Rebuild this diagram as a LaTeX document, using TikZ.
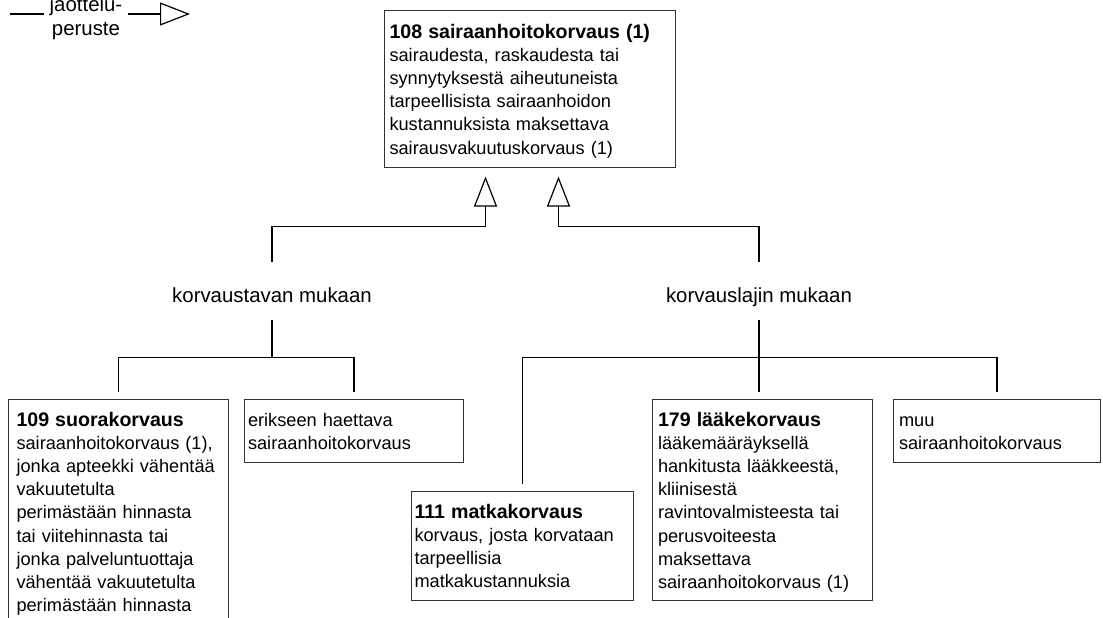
\documentclass[tikz,border=0pt]{standalone}
\usepackage{fontspec}
\setmainfont{Liberation Sans}
\usetikzlibrary{arrows.meta}
\tikzset{
	x=1pt, y=-1pt,
	card/.style={
		draw=black!80, line width=1pt,
		anchor=north west, align=left,
		inner ysep=0pt,
		text height=27pt,
		font=\fontsize{18.2}{23.1}\selectfont
	},
	criterion/.style={
		anchor=base, inner sep=0pt,
		text height=40pt, text depth=18pt,
		font=\fontsize{20.4}{24}\selectfont
	},
	link/.style={line width=1.2pt},
	generalise/.style={link, -{Triangle[open, length=30pt, width=23pt]}}
}
\newcommand{\cardtitle}[1]{{\fontsize{19.6}{23.1}\selectfont\bfseries #1}}

\begin{document}
\begin{tikzpicture}
	\useasboundingbox (0,0) rectangle (1103,618);
	\clip (0,0) rectangle (1103,618);

	% legend
	\node (jaottelu)[anchor=base, text width=74pt, align=center, inner xsep=5pt, font=\fontsize{20.4}{24}\selectfont] at (86,12) {jaottelu-\\peruste};
	\coordinate (legendstart) at (10,14);
	\coordinate (legendtip) at (190,14);
	\draw[link] (legendstart) -- (legendstart -| jaottelu.west);
	\draw[generalise] (legendstart -| jaottelu.east) -- (legendtip);

	\node (sairaanhoito)[card, text width=281pt, inner xsep=5pt, text height=28pt, text depth=128.5pt] at (384,10)
		{\cardtitle{108 sairaanhoitokorvaus (1)}\\ sairaudesta, raskaudesta tai\\ synnytyksestä aiheutuneista\\ tarpeellisista sairaanhoidon\\ kustannuksista maksettava\\ sairausvakuutuskorvaus (1)};

	\node (tavan)[criterion] at (272,302) {korvaustavan mukaan};
	\node (lajin)[criterion] at (759,302) {korvauslajin mukaan};

	\draw[generalise, shorten >=9pt] (tavan.north) -- ++(0,-35) -| ([xshift=-44.5pt]sairaanhoito.south);
	\draw[generalise, shorten >=9pt] (lajin.north) -- ++(0,-35) -| ([xshift=28.5pt]sairaanhoito.south);

	% korvaustavan mukaan
	\node (suora)[card, text width=204pt, inner xsep=8pt, text depth=250pt] at (8,399)
		{\cardtitle{109 suorakorvaus}\\ sairaanhoitokorvaus (1),\\ jonka apteekki vähentää\\ vakuutetulta\\ perimästään hinnasta\\ tai viitehinnasta tai\\ jonka palveluntuottaja\\ vähentää vakuutetulta\\ perimästään hinnasta};
	\node (erikseen)[card, text width=212pt, inner xsep=3.5pt, text depth=36.4pt] at (244,399)
		{erikseen haettava\\ sairaanhoitokorvaus};

	\draw[link] (tavan.south) -- ++(0,37) coordinate (tavanbus);
	\draw[link, shorten <=7pt, shorten >=7pt] (suora.north) |- (tavanbus) -| (erikseen.north);

	% korvauslajin mukaan
	\node (matka)[card, text width=216pt, inner xsep=3pt, text depth=82.2pt] at (411,491)
		{\cardtitle{111 matkakorvaus}\\ korvaus, josta korvataan\\ tarpeellisia\\ matkakustannuksia};
	\node (laake)[card, text width=209pt, inner xsep=5.5pt, text depth=173.8pt] at (652,399)
		{\cardtitle{179 lääkekorvaus}\\ lääkemääräyksellä\\ hankitusta lääkkeestä,\\ kliinisestä\\ ravintovalmisteesta tai\\ perusvoiteesta\\ maksettava\\ sairaanhoitokorvaus (1)};
	\node (muu)[card, text width=196pt, inner xsep=5.5pt, text depth=36.4pt] at (893,399)
		{muu\\ sairaanhoitokorvaus};

	\draw[link, shorten >=7pt] (lajin.south) -- (lajin.south |- laake.north);
	\path (lajin.south) ++(0,37) coordinate (lajinbus);
	\draw[link, shorten <=7pt, shorten >=7pt] (matka.north) |- (lajinbus) -| (muu.north);
\end{tikzpicture}
\end{document}
